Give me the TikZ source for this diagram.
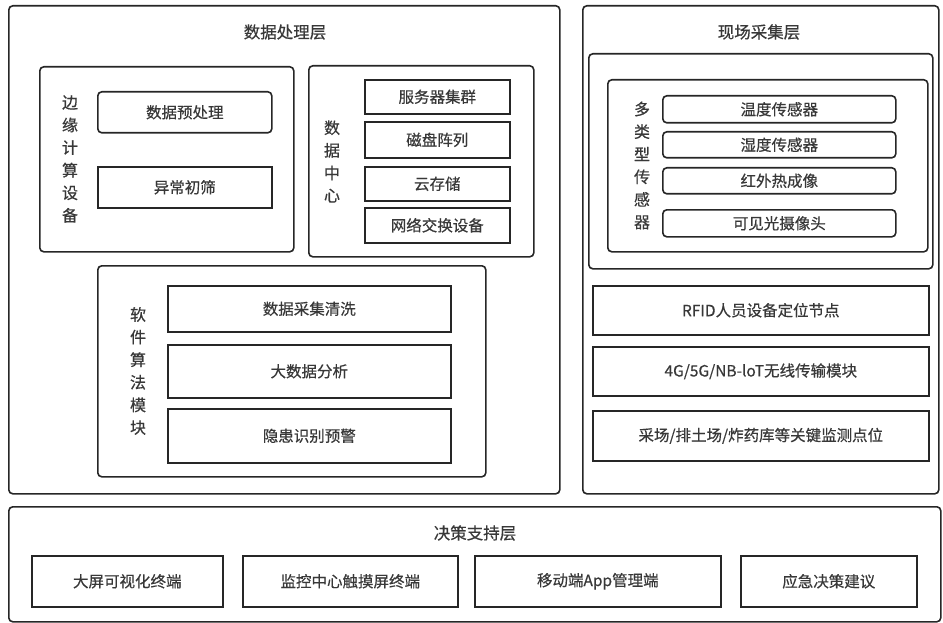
\documentclass[tikz,border=0pt]{standalone}
\usepackage{fontspec}
\newfontfamily\cjk[FakeBold=0.5]{Noto Sans CJK SC}
\begin{document}
\begin{tikzpicture}[x=1pt,y=-1pt,
  base/.style={draw=black!85, line width=1.6pt, inner sep=0pt, font=\cjk\fontsize{15}{18}\selectfont, text=black!80},
  rbox/.style={base, rounded corners=4pt},
  sbox/.style={base},
  ttl/.style={font=\cjk\fontsize{15.5}{18}\selectfont, text=black!78, inner sep=0pt},
  htl/.style={font=\cjk\fontsize{16.5}{18}\selectfont, text=black!78, inner sep=0pt},
  vlab/.style={font=\cjk\fontsize{16}{22.6}\selectfont, text=black!78, align=center, inner sep=0pt}
]
\useasboundingbox (0,0) rectangle (943,623);
\newcommand\bx[6]{\node[#1, anchor=north west, minimum width=#4-#2, minimum height=#5-#3] (#6) at (#2,#3) {};}
% Data processing layer
\bx{rbox}{8}{5}{559}{493}{dpl}
\node[htl] (dplt) at (285,32) {数据处理层};
\bx{rbox}{39}{66}{293}{251}{edge}
\node[vlab] (edgel) at (70,159) {边\\缘\\计\\算\\设\\备};
\bx{rbox}{97}{91}{271}{132}{pre}
\node[ttl] at (pre.center) {数据预处理};
\bx{sbox}{97}{166}{271}{207}{scr}
\node[ttl] at (scr.center) {异常初筛};
\bx{rbox}{308}{65}{533}{256}{dc}
\node[vlab] (dcl) at (332,161.5) {数\\据\\中\\心};
\bx{sbox}{364}{79}{509}{113}{srv}
\node[ttl] at (srv.center) {服务器集群};
\bx{sbox}{364}{121}{509}{157}{disk}
\node[ttl] at (disk.center) {磁盘阵列};
\bx{sbox}{364}{166}{509}{200}{cloud}
\node[ttl] at (cloud.center) {云存储};
\bx{sbox}{364}{207}{509}{242}{net}
\node[ttl] at (net.center) {网络交换设备};
\bx{rbox}{97}{265}{485}{476}{sw}
\node[vlab] (swl) at (138,371) {软\\件\\算\\法\\模\\块};
\bx{sbox}{167}{285}{450}{331}{clean}
\node[ttl] at (clean.center) {数据采集清洗};
\bx{sbox}{167}{344}{450}{397}{big}
\node[ttl] at (big.center) {大数据分析};
\bx{sbox}{167}{408}{450}{462}{warn}
\node[ttl] at (warn.center) {隐患识别预警};
% Field collection layer
\bx{rbox}{582}{5}{938}{493}{fcl}
\node[htl] (fclt) at (759,32) {现场采集层};
\bx{rbox}{588}{53}{932}{268}{wrap}
\bx{rbox}{607}{79}{927}{251}{sens}
\node[vlab] (sensl) at (642,165.5) {多\\类\\型\\传\\感\\器};
\bx{rbox}{662}{95}{895}{122}{temp}
\node[ttl] at (temp.center) {温度传感器};
\bx{rbox}{662}{131}{895}{157}{hum}
\node[ttl] at (hum.center) {湿度传感器};
\bx{rbox}{662}{167}{895}{193}{ir}
\node[ttl] at (ir.center) {红外热成像};
\bx{rbox}{662}{209}{895}{236}{cam}
\node[ttl] at (cam.center) {可见光摄像头};
\bx{sbox}{592}{285}{928}{334}{rfid}
\node[ttl] at (rfid.center) {RFID人员设备定位节点};
\bx{sbox}{592}{346}{928}{395}{wl}
\node[ttl] at (wl.center) {4G/5G/NB-loT无线传输模块};
\bx{sbox}{592}{410}{928}{460}{pts}
\node[ttl] at (pts.center) {采场/排土场/炸药库等关键监测点位};
% Decision support layer
\bx{rbox}{8}{506}{940}{621}{dsl}
\node[htl] (dslt) at (475,533) {决策支持层};
\bx{sbox}{31}{555}{222}{606}{scr1}
\node[ttl] at (scr1.center) {大屏可视化终端};
\bx{sbox}{242}{555}{457}{606}{scr2}
\node[ttl] at (scr2.center) {监控中心触摸屏终端};
\bx{sbox}{474}{555}{720}{606}{app}
\node[ttl] at (app.center) {移动端App管理端};
\bx{sbox}{740}{555}{916}{606}{emg}
\node[ttl] at (emg.center) {应急决策建议};
\end{tikzpicture}
\end{document}
